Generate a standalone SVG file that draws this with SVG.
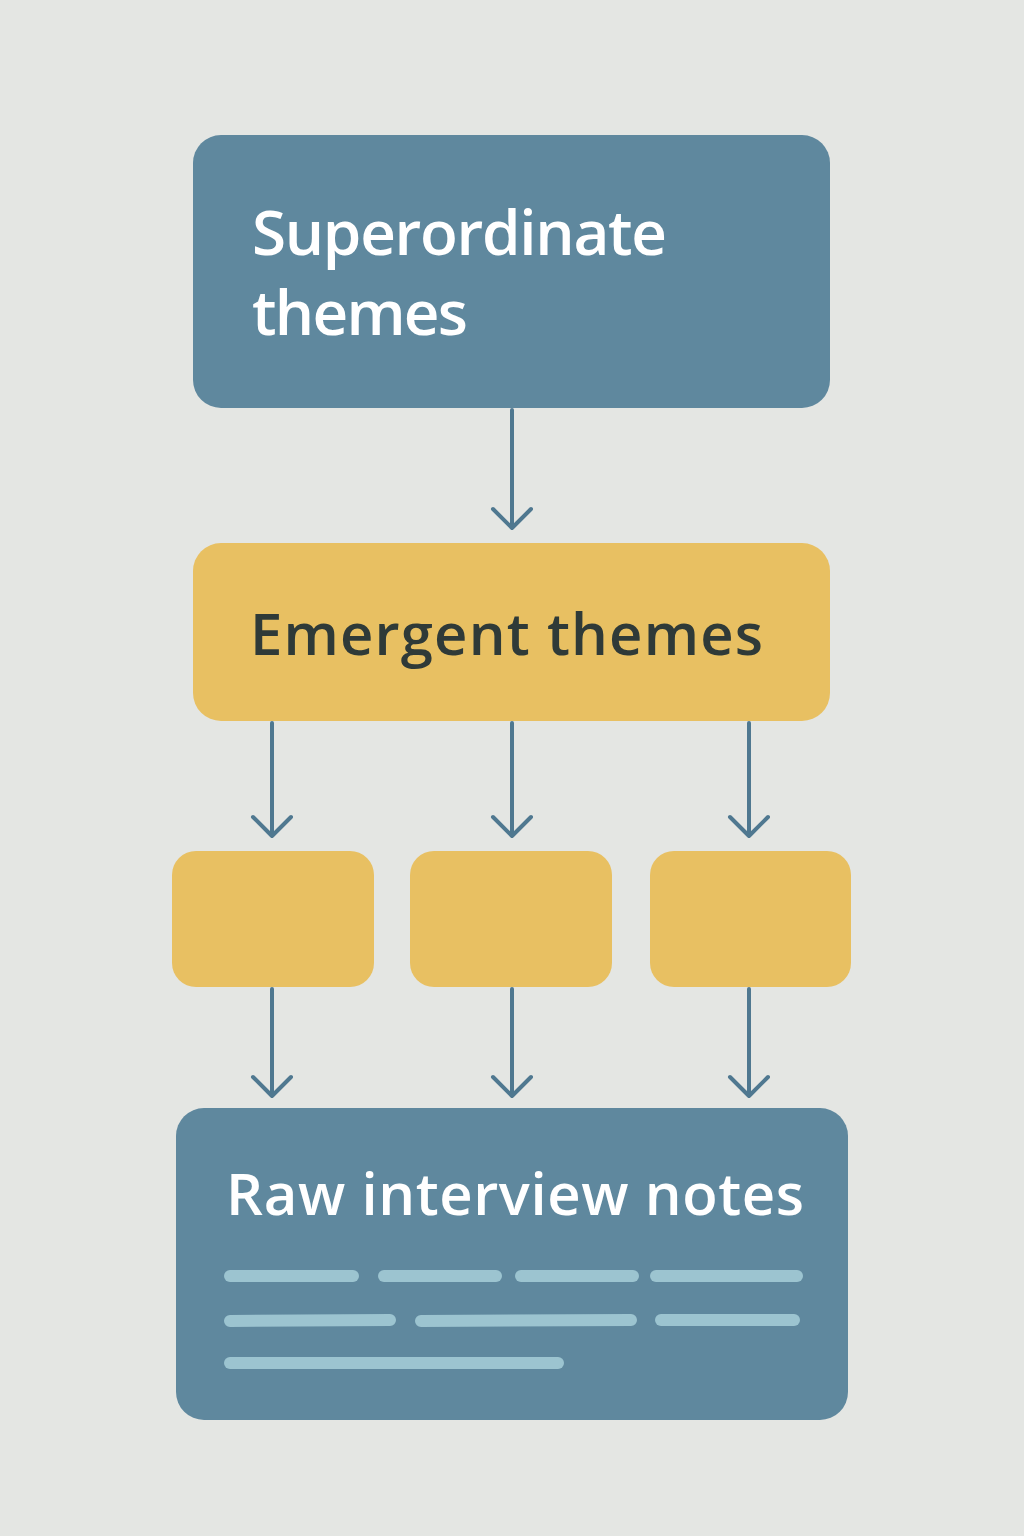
<svg xmlns="http://www.w3.org/2000/svg" width="1024" height="1536" viewBox="0 0 1024 1536">
<style>
.blue{fill:#5f889e}
.yel{fill:#e8c062}
.t{font-family:"Open Sans","Liberation Sans",sans-serif;font-weight:600}
.w{fill:#ffffff}
.d{fill:#2f3a38}
.c{stroke:#4f7890;stroke-width:4;fill:none;stroke-linecap:round;stroke-linejoin:round}
.n{stroke:#9cc4d0;stroke-width:12;stroke-linecap:round}
</style>
<defs>
<marker id="a" viewBox="0 0 30 20" refX="15" refY="18" markerWidth="30" markerHeight="20" markerUnits="userSpaceOnUse" orient="auto-start-reverse">
</marker>
</defs>
<rect width="1024" height="1536" fill="#e4e6e3"/>
<g id="superordinate">
<rect class="blue" x="193" y="135" width="637" height="273" rx="28"/>
<text class="t w" x="252" y="255" font-size="62" textLength="415">Superordinate</text>
<text class="t w" x="252" y="335" font-size="62" textLength="216">themes</text>
</g>
<g id="emergent">
<rect class="yel" x="193" y="543" width="637" height="178" rx="28"/>
<text class="t d" x="250" y="655" font-size="58" textLength="513">Emergent themes</text>
</g>
<g id="sub1"><rect class="yel" x="172" y="851" width="202" height="136" rx="24"/></g>
<g id="sub2"><rect class="yel" x="410" y="851" width="202" height="136" rx="24"/></g>
<g id="sub3"><rect class="yel" x="650" y="851" width="201" height="136" rx="24"/></g>
<g id="raw">
<rect class="blue" x="176" y="1108" width="672" height="312" rx="28"/>
<text class="t w" x="226" y="1215" font-size="58" textLength="578">Raw interview notes</text>
<line class="n" x1="230" y1="1276" x2="353" y2="1276"/>
<line class="n" x1="384" y1="1276" x2="496" y2="1276"/>
<line class="n" x1="521" y1="1276" x2="633" y2="1276"/>
<line class="n" x1="656" y1="1276" x2="797" y2="1276"/>
<line class="n" x1="230" y1="1321" x2="390" y2="1320"/>
<line class="n" x1="421" y1="1321" x2="631" y2="1320"/>
<line class="n" x1="661" y1="1320" x2="794" y2="1320"/>
<line class="n" x1="230" y1="1363" x2="558" y2="1363"/>
</g>
<g id="connectors">
<path class="c" d="M512 410V528M493 509L512 528L531 509"/>
<path class="c" d="M272 723V836M253 817L272 836L291 817"/>
<path class="c" d="M512 723V836M493 817L512 836L531 817"/>
<path class="c" d="M749 723V836M730 817L749 836L768 817"/>
<path class="c" d="M272 989V1096M253 1077L272 1096L291 1077"/>
<path class="c" d="M512 989V1096M493 1077L512 1096L531 1077"/>
<path class="c" d="M749 989V1096M730 1077L749 1096L768 1077"/>
</g>
</svg>
